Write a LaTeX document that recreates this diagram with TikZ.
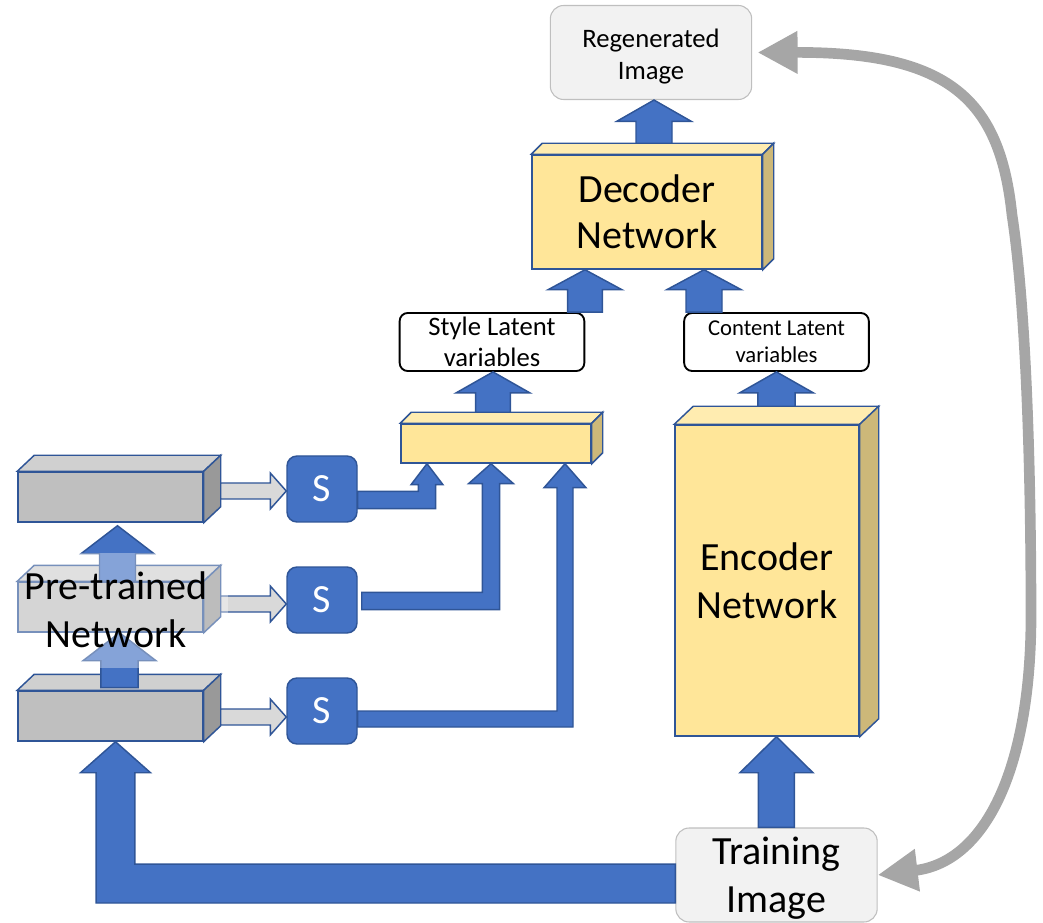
\documentclass[tikz,border=0pt]{standalone}
\usepackage{fontspec}
\setmainfont{Carlito}
\usetikzlibrary{arrows.meta,calc}

\definecolor{accentblue}{HTML}{4472C4}
\definecolor{edgeblue}{HTML}{2F5597}
\definecolor{yelfront}{HTML}{FFE699}
\definecolor{yeltop}{HTML}{FFECB0}
\definecolor{yelside}{HTML}{CDB879}
\definecolor{grayfront}{HTML}{BFBFBF}
\definecolor{graytop}{HTML}{D0D0D0}
\definecolor{grayside}{HTML}{999999}
\definecolor{arrowgray}{HTML}{D9D9D9}
\definecolor{boxgray}{HTML}{F2F2F2}
\definecolor{boxedge}{HTML}{BFBFBF}
\definecolor{curvegray}{HTML}{A6A6A6}

\newcommand\txtbig{\fontsize{30}{34.5}\selectfont}
\newcommand\txtbigwide{\fontsize{30}{36}\selectfont}
\newcommand\txttrain{\fontsize{30}{36}\selectfont}
\newcommand\txtregen{\fontsize{20}{24}\selectfont}
\newcommand\txtstyle{\fontsize{20}{23.25}\selectfont}
\newcommand\txtcontent{\fontsize{17}{20.25}\selectfont}
\newcommand\txtsel{\fontsize{30}{34}\selectfont}

% top and side faces of a box whose front face is the node #1
\newcommand\cubefaces[4]{%
  \filldraw[#4 top] (#1.north west) -- (#1.north east)
    -- ([shift={(#2,-#3)}]#1.north east) -- ([shift={(#2,-#3)}]#1.north west) -- cycle;
  \filldraw[#4 side] (#1.north east) -- ([shift={(#2,-#3)}]#1.north east)
    -- ([shift={(#2,-#3)}]#1.south east) -- (#1.south east) -- cycle;}

% block arrow pointing up: #2 gives the foot level, #3 the tip
\newcommand\blkup[6][]{%
  \filldraw[bluearrow,#1] let \p1=#2, \p2=#3 in
    ({\x2-#4},\y1) -- ({\x2-#4},{\y2-#6}) -- ({\x2-#5},{\y2-#6}) -- (\x2,\y2)
    -- ({\x2+#5},{\y2-#6}) -- ({\x2+#4},{\y2-#6}) -- ({\x2+#4},\y1) -- cycle;}

% block arrow pointing right
\newcommand\blkright[6][]{%
  \filldraw[bluearrow,#1] let \p1=#2, \p2=#3 in
    (\x1,{\y2+#4}) -- ({\x2-#6},{\y2+#4}) -- ({\x2-#6},{\y2+#5}) -- (\x2,\y2)
    -- ({\x2-#6},{\y2-#5}) -- ({\x2-#6},{\y2-#4}) -- (\x1,{\y2-#4}) -- cycle;}

% bent block arrow: runs right from #2, then up to the tip #3
\newcommand\blkelbow[6][]{%
  \filldraw[bluearrow,#1] let \p1=#2, \p2=#3 in
    (\x1,{\y1+#4}) -- ({\x2-#4},{\y1+#4}) -- ({\x2-#4},{\y2-#6}) -- ({\x2-#5},{\y2-#6})
    -- (\x2,\y2) -- ({\x2+#5},{\y2-#6}) -- ({\x2+#4},{\y2-#6}) -- ({\x2+#4},{\y1-#4})
    -- (\x1,{\y1-#4}) -- cycle;}

% bent block arrow: runs left from #2, then up to the tip #3
\newcommand\blkelbowleft[6][]{%
  \filldraw[bluearrow,#1] let \p1=#2, \p2=#3 in
    (\x1,{\y1+#4}) -- ({\x2+#4},{\y1+#4}) -- ({\x2+#4},{\y2-#6}) -- ({\x2+#5},{\y2-#6})
    -- (\x2,\y2) -- ({\x2-#5},{\y2-#6}) -- ({\x2-#4},{\y2-#6}) -- ({\x2-#4},{\y1-#4})
    -- (\x1,{\y1-#4}) -- cycle;}

\begin{document}
\begin{tikzpicture}[x=0.75pt,y=-0.75pt,
  bluearrow/.style={fill=accentblue,draw=edgeblue,line width=1.1pt},
  lightarrow/.style={fill=arrowgray,draw=edgeblue,line width=1.1pt},
  ylw front/.style={fill=yelfront,draw=edgeblue,line width=1.1pt},
  ylw top/.style={fill=yeltop,draw=edgeblue,line width=1.1pt},
  ylw side/.style={fill=yelside,draw=edgeblue,line width=1.1pt},
  gry front/.style={fill=grayfront,draw=edgeblue,line width=1.1pt},
  gry top/.style={fill=graytop,draw=edgeblue,line width=1.1pt},
  gry side/.style={fill=grayside,draw=edgeblue,line width=1.1pt},
  imgbox/.style={fill=boxgray,draw=boxedge,line width=0.8pt,rounded corners=10pt,
    inner sep=0pt,align=center,minimum width=151pt,minimum height=70.5pt},
  latbox/.style={fill=white,draw=black,line width=1.4pt,rounded corners=6pt,
    inner sep=0pt,align=center,minimum width=138.5pt,minimum height=43.5pt},
  selbox/.style={fill=accentblue,draw=edgeblue,line width=1.1pt,rounded corners=7.5pt,
    minimum width=52.5pt,minimum height=49.5pt,inner sep=0pt,text=white,font=\txtsel},
  grayblock/.style={gry front,minimum width=138.75pt,minimum height=37.5pt,inner sep=0pt},
  curvearrow/.style={draw=curvegray,line width=8pt,
    {Triangle[length=30pt,width=30pt]}-{Triangle[length=30pt,width=30pt]}}]

\useasboundingbox (0,0) rectangle (1043,923);

% image boxes
\node[imgbox,font=\txtregen] (regen) at (651,52.5) {\rule{0pt}{20pt}Regenerated\\Image};
\node[imgbox,font=\txttrain] (train) at (776.5,875) {\rule{0pt}{26pt}Training\\Image};

% decoder and encoder blocks
\node[ylw front,minimum width=172.5pt,minimum height=85.5pt,inner sep=0pt,
  align=center,font=\txtbig] (dec) at (647,212) {Decoder\\Network};
\cubefaces{dec}{11}{11}{ylw}
\node[ylw front,minimum width=138pt,minimum height=233.25pt,inner sep=0pt,
  align=center,font=\txtbigwide] (enc) at (767,580.5) {Encoder\\Network};
\cubefaces{enc}{19}{18}{ylw}
\node[ylw front,minimum width=142.5pt,minimum height=29.25pt,inner sep=0pt] (stylebar) at (496,443.5) {};
\cubefaces{stylebar}{11}{11}{ylw}

% latent variable boxes
\node[latbox,font=\txtstyle] (stylelat) at (492,342) {Style Latent\\variables};
\node[latbox,font=\txtcontent] (contlat) at (776.5,342) {Content Latent\\variables};

% pre-trained network layers
\node[grayblock] (g1) at (110.5,497) {};
\cubefaces{g1}{17}{16}{gry}
\node[grayblock] (g2) at (110.5,607) {};
\cubefaces{g2}{17}{16}{gry}
\node[grayblock] (g3) at (110.5,716) {};
\cubefaces{g3}{17}{16}{gry}

% selection boxes
\node[selbox] (s1) at (322,489) {S};
\node[selbox] (s2) at (322,600) {S};
\node[selbox] (s3) at (322,711) {S};

% flow arrows
\blkup{([yshift=8.25pt]dec.north)}{([xshift=2.25pt]regen.south)}{13.5pt}{28pt}{16pt}
\blkup{(stylelat.north)}{([xshift=-46.5pt]dec.south)}{13.1pt}{27.75pt}{15pt}
\blkup{(contlat.north)}{([xshift=42.75pt]dec.south)}{13.5pt}{28pt}{15pt}
\blkup{([yshift=8.25pt]stylebar.north)}{([xshift=0.75pt]stylelat.south)}{13.1pt}{27.75pt}{15.75pt}
\blkup{([yshift=13.5pt]enc.north)}{(contlat.south)}{13.9pt}{27.75pt}{15.75pt}
\blkup{(train.north)}{([xshift=7.1pt]enc.south)}{13.5pt}{27.4pt}{27pt}
\blkelbowleft{([yshift=-6.4pt]train.west)}{([xshift=3.75pt]g3.south)}{14.6pt}{26.25pt}{23.25pt}

\blkup{(g2.north)}{([xshift=5.25pt,yshift=-2.25pt]g1.south)}{13.5pt}{27.4pt}{21pt}
\blkup{([yshift=2pt]g3.north)}{([xshift=6.75pt]g2.south)}{13.9pt}{27.4pt}{21pt}

\blkright[lightarrow]{([xshift=12.75pt]g1.east)}{([yshift=-1.5pt]s1.west)}{6pt}{13.5pt}{12pt}
\blkright[lightarrow]{([xshift=12.75pt]g2.east)}{([yshift=-3pt]s2.west)}{6pt}{13.5pt}{12pt}
\blkright[lightarrow]{([xshift=12.75pt]g3.east)}{([yshift=-4.5pt]s3.west)}{6pt}{13.5pt}{12pt}

\blkelbow{([yshift=-8.25pt]s1.east)}{([xshift=-51.75pt]stylebar.south)}{6.4pt}{12pt}{15.75pt}
\blkelbow{([xshift=3pt,yshift=-0.75pt]s2.east)}{([xshift=-3.75pt]stylebar.south)}{6.4pt}{16.9pt}{15pt}
\blkelbow{([yshift=-6pt]s3.east)}{([xshift=51.75pt]stylebar.south)}{6pt}{15.75pt}{18pt}

% reconstruction loop
\draw[curvearrow] (train.east) .. controls (985,862) and (1030,770) .. (1031,620)
  .. controls (1031,450) and (1025,300) .. (1012,215)
  .. controls (1000,100) and (950,52) .. ([xshift=4pt]regen.east);

% label of the pre-trained network on a translucent backing
\fill[white,opacity=0.35] (10,553) rectangle (228,668);
\node[align=center,font=\txtbigwide,inner sep=0pt] (pretrained) at (116,610) {Pre-trained\\Network};
\end{tikzpicture}
\end{document}
